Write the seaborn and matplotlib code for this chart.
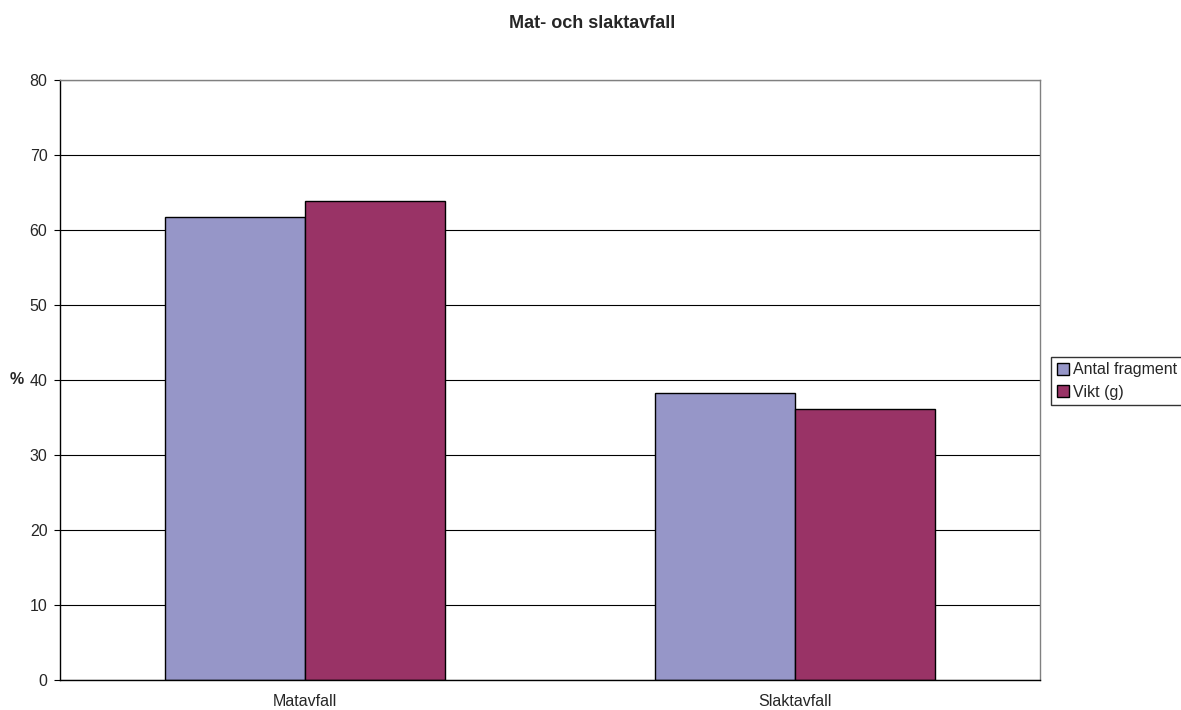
import numpy as np
import pandas as pd
import matplotlib.pyplot as plt
import seaborn as sns

categories = ['Matavfall', 'Slaktavfall']
antal = [61.7, 38.3]
vikt = [63.9, 36.1]
series = ['Antal fragment', 'Vikt (g)']
colors = ['#9696C8', '#993366']

df = pd.DataFrame({
    'kategori': categories * 2,
    'serie': [series[0]] * 2 + [series[1]] * 2,
    'procent': antal + vikt,
})

sns.set_style("white")
plt.rcParams['font.family'] = ['Liberation Sans', 'DejaVu Sans']

fig = plt.figure(figsize=(11.81, 7.10), dpi=100)
ax = fig.add_axes([60 / 1181, 1 - 680 / 710, 980 / 1181, 600 / 710])

sns.barplot(data=df, x='kategori', y='procent', hue='serie', palette=colors,
            width=0.571, edgecolor='black', linewidth=1, saturation=1, ax=ax,
            legend=False)

ax.set_xlim(-0.5, 1.5)
ax.set_ylim(0, 80)
ax.set_yticks(np.arange(0, 81, 10))
ax.yaxis.grid(True, color='black', linewidth=0.8)
ax.set_axisbelow(True)

ax.set_xticks([0, 1])
ax.set_xticklabels(categories)
ax.set_xticks([-0.5, 0.5, 1.5], minor=True)
ax.tick_params(axis='x', which='major', length=0, labelsize=11.5, pad=10)
ax.tick_params(axis='x', which='minor', length=4, direction='out', color='black')
ax.tick_params(axis='y', length=4, direction='out', color='black', left=True,
               labelsize=11.5, pad=5)

for side in ['left', 'bottom']:
    ax.spines[side].set_color('black')
    ax.spines[side].set_linewidth(1)
for side in ['top', 'right']:
    ax.spines[side].set_color('#808080')
    ax.spines[side].set_linewidth(1)

ax.set_xlabel('')
ax.set_ylabel('%', rotation=0, fontweight='bold', fontsize=11.5, ha='center', va='center')
ax.yaxis.set_label_coords((16.5 - 60) / 980, 0.5)

fig.suptitle('Mat- och slaktavfall', fontweight='bold', fontsize=13,
             x=592 / 1181, y=1 - 23 / 710, va='center')

handles = [plt.Rectangle((0, 0), 1, 1, facecolor=c, edgecolor='black', linewidth=1) for c in colors]
leg = fig.legend(handles, series, loc='center left', bbox_to_anchor=(1051 / 1181, 1 - 381 / 710),
                 fontsize=11.5, frameon=True, fancybox=False, edgecolor='black',
                 handlelength=0.75, handleheight=0.75, handletextpad=0.3, borderpad=0.35,
                 labelspacing=0.45, borderaxespad=0)
leg.get_frame().set_linewidth(1)

fig.savefig('out.png', dpi=100)
